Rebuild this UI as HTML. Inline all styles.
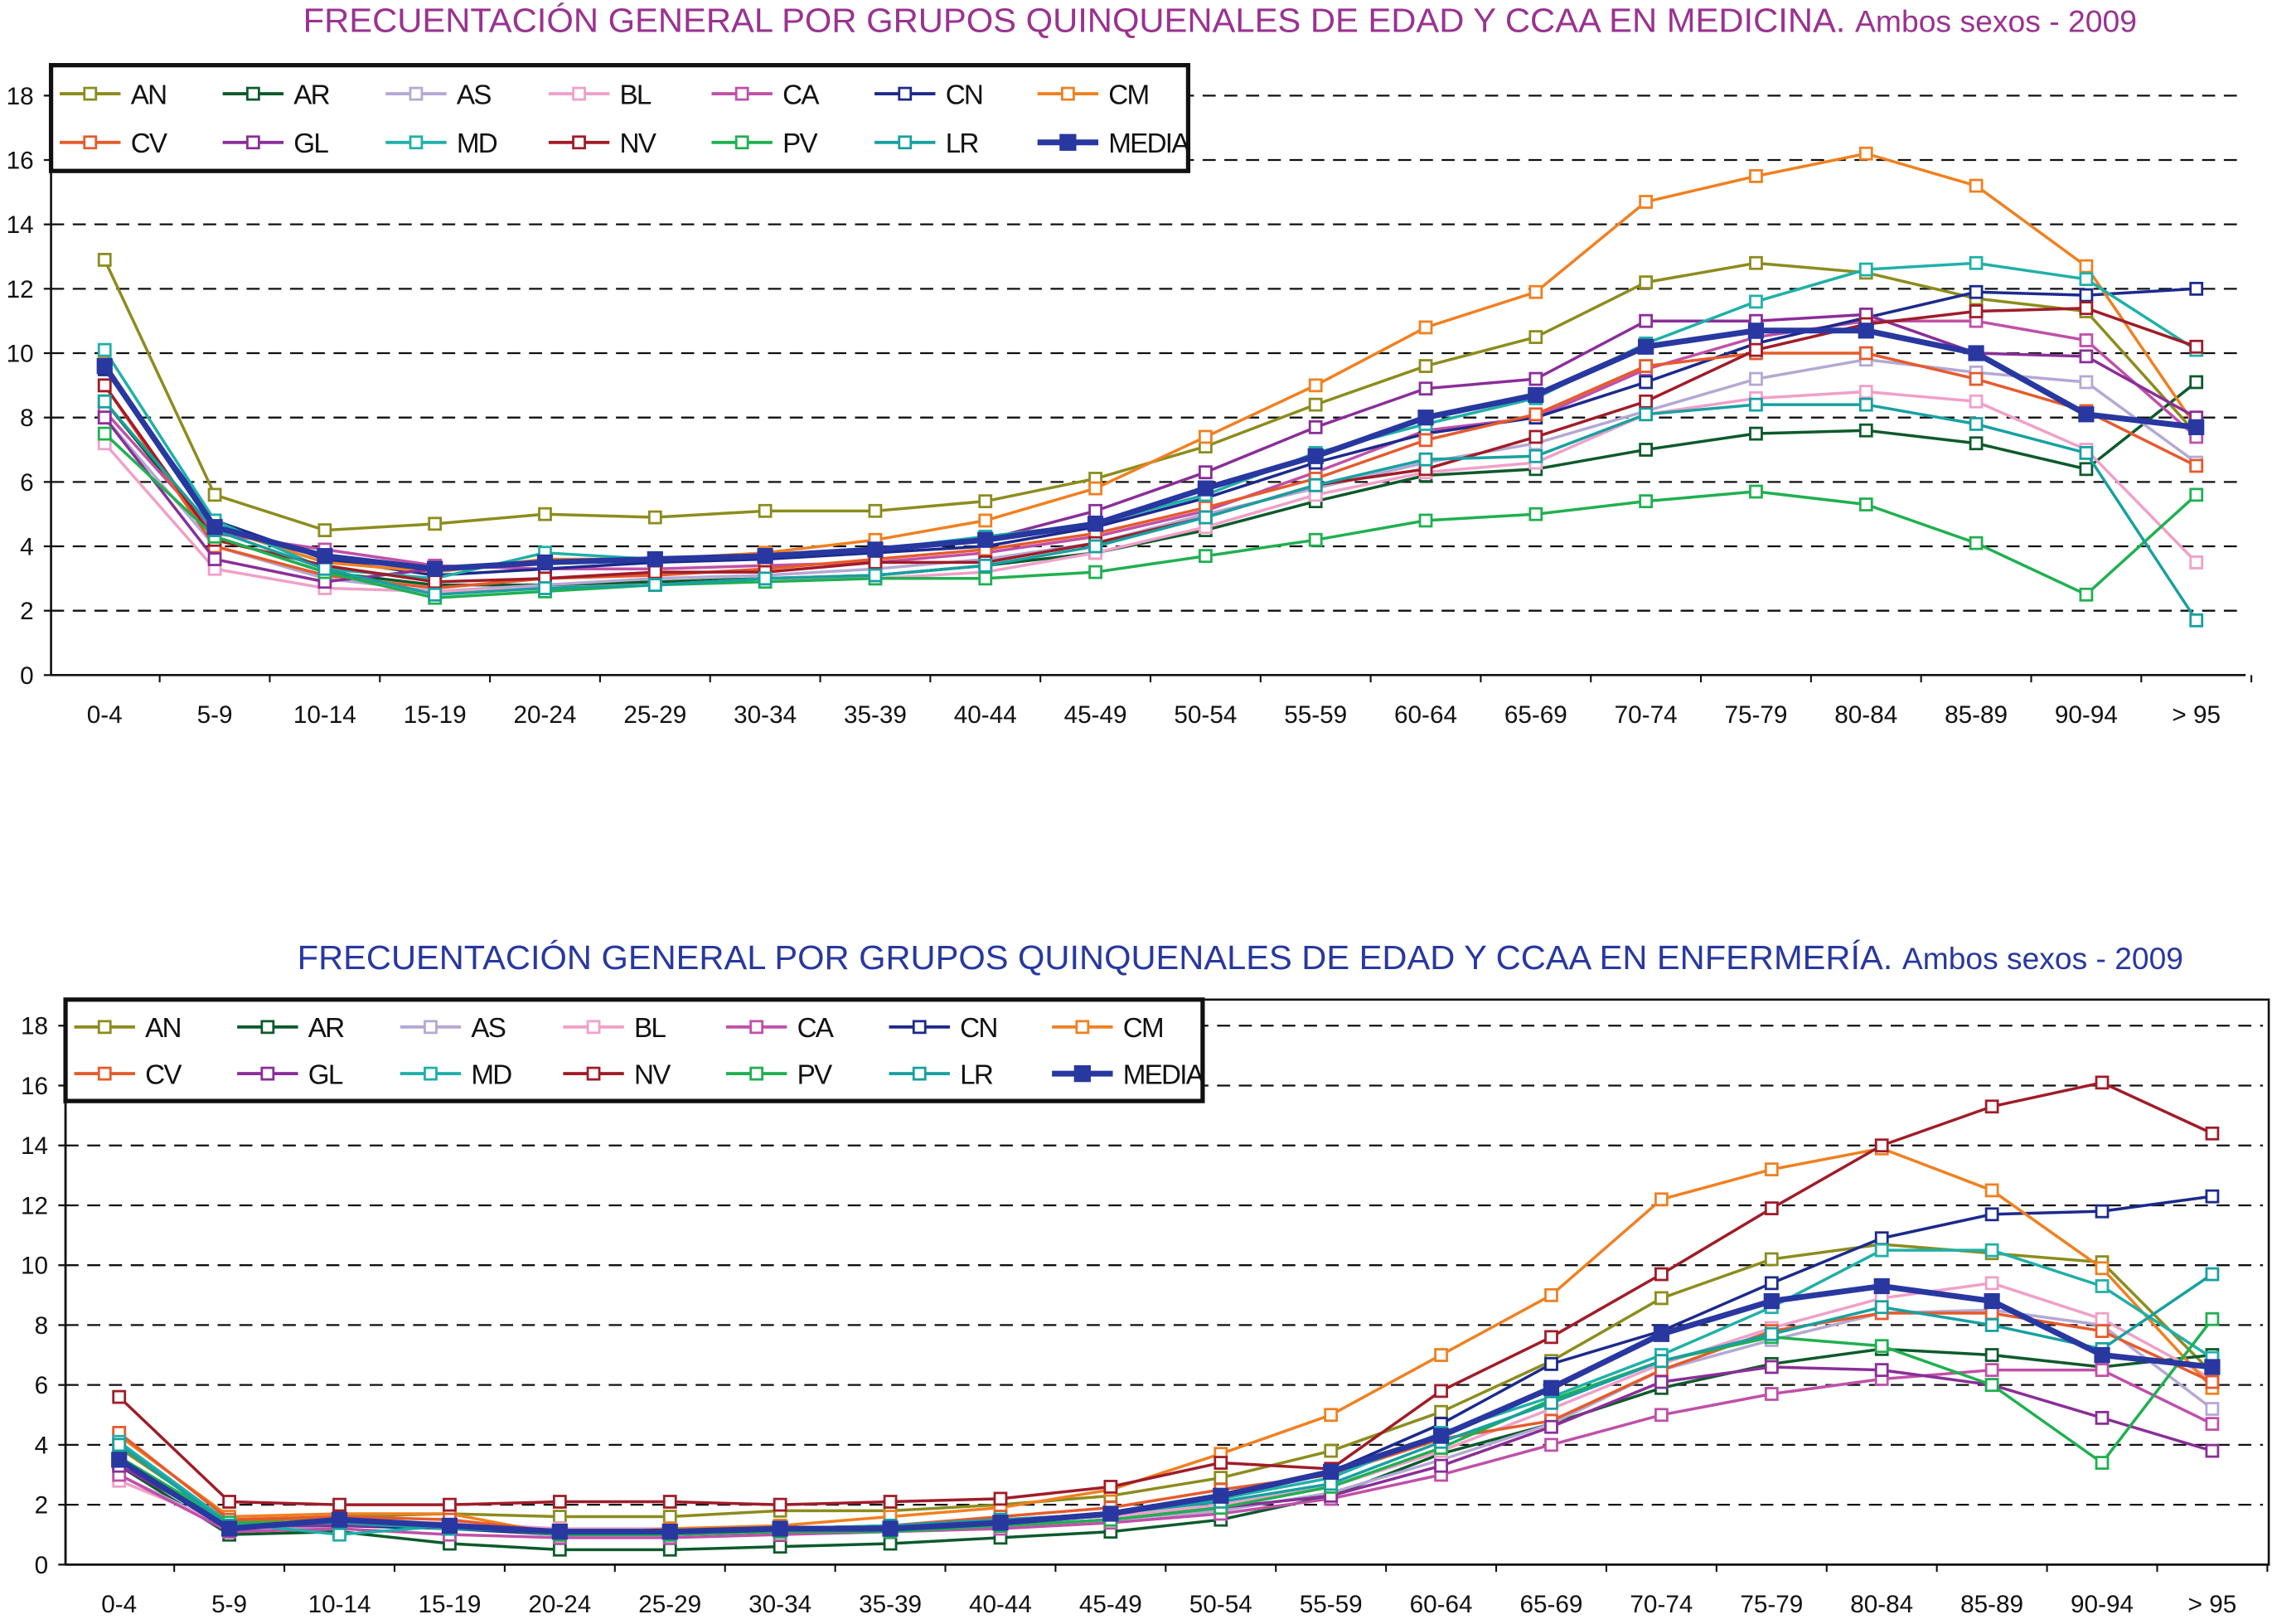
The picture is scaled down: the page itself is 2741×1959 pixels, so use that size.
<!DOCTYPE html>
<html><head><meta charset="utf-8"><style>
html,body{margin:0;padding:0;background:#fff}
svg{display:block}
text{font-family:"Liberation Sans",sans-serif}
</style></head><body>
<svg id="svg" width="2741" height="1959" viewBox="0 0 1568 1121" xmlns="http://www.w3.org/2000/svg">
<text x="842" y="22" text-anchor="middle" font-size="23.5" fill="#9a3290" textLength="1266" lengthAdjust="spacingAndGlyphs">FRECUENTACIÓN GENERAL POR GRUPOS QUINQUENALES DE EDAD Y CCAA EN MEDICINA. <tspan font-size="21">Ambos sexos - 2009</tspan></text>
<text x="856" y="669" text-anchor="middle" font-size="23.5" fill="#2838a0" textLength="1302" lengthAdjust="spacingAndGlyphs">FRECUENTACIÓN GENERAL POR GRUPOS QUINQUENALES DE EDAD Y CCAA EN ENFERMERÍA. <tspan font-size="21">Ambos sexos - 2009</tspan></text>
<g id="g1"></g>
<g id="g2"></g>
</svg>
<script>
const categories=["0-4","5-9","10-14","15-19","20-24","25-29","30-34","35-39","40-44","45-49","50-54","55-59","60-64","65-69","70-74","75-79","80-84","85-89","90-94","> 95"];
const seriesNames=["AN","AR","AS","BL","CA","CN","CM","CV","GL","MD","NV","PV","LR","MEDIA"];
const yTicks=[0,2,4,6,8,10,12,14,16,18];
const colors=["#8c8c1e","#0d5a2b","#b4a8d4","#f0a0c8","#c050a8","#1c2a8c","#f08020","#e65a2c","#8a2e98","#20b0a8","#a01c28","#20b050","#18a0a0","#2838a0"];
const medAN=[12.9,5.6,4.5,4.7,5.0,4.9,5.1,5.1,5.4,6.1,7.1,8.4,9.6,10.5,12.2,12.8,12.5,11.7,11.3,7.5];
const medAR=[8.5,4.3,3.2,2.8,2.8,2.9,3.0,3.1,3.4,3.8,4.5,5.4,6.2,6.4,7.0,7.5,7.6,7.2,6.4,9.1];
const medAS=[8.0,4.0,3.0,2.6,2.8,3.0,3.1,3.3,3.6,4.1,5.0,5.8,6.6,7.2,8.2,9.2,9.8,9.4,9.1,6.6];
const medBL=[7.2,3.3,2.7,2.6,2.7,2.8,3.0,3.0,3.2,3.8,4.6,5.6,6.3,6.6,8.1,8.6,8.8,8.5,7.0,3.5];
const medCA=[8.2,4.4,3.9,3.4,3.3,3.3,3.4,3.5,3.8,4.3,5.1,6.3,7.6,8.0,9.5,10.5,11.0,11.0,10.4,7.4];
const medCN=[9.5,4.8,3.6,3.1,3.3,3.5,3.6,3.8,4.0,4.6,5.5,6.6,7.5,8.0,9.1,10.3,11.1,11.9,11.8,12.0];
const medCM=[9.7,4.6,3.5,3.2,3.6,3.6,3.8,4.2,4.8,5.8,7.4,9.0,10.8,11.9,14.7,15.5,16.2,15.2,12.7,7.7];
const medCV=[9.0,4.0,3.1,2.7,3.0,3.1,3.3,3.6,3.9,4.4,5.2,6.1,7.3,8.1,9.6,10.0,10.0,9.2,8.2,6.5];
const medGL=[8.0,3.6,2.9,3.3,3.5,3.6,3.7,3.9,4.2,5.1,6.3,7.7,8.9,9.2,11.0,11.0,11.2,10.0,9.9,8.0];
const medMD=[10.1,4.8,3.3,3.0,3.8,3.6,3.7,3.9,4.3,4.7,5.6,6.9,7.8,8.6,10.3,11.6,12.6,12.8,12.3,10.1];
const medNV=[9.0,4.2,3.4,2.9,3.0,3.2,3.2,3.5,3.5,4.1,4.9,5.9,6.4,7.4,8.5,10.1,10.9,11.3,11.4,10.2];
const medPV=[7.5,4.3,3.2,2.4,2.6,2.8,2.9,3.0,3.0,3.2,3.7,4.2,4.8,5.0,5.4,5.7,5.3,4.1,2.5,5.6];
const medLR=[8.5,4.5,3.3,2.5,2.7,2.8,3.0,3.1,3.4,4.0,4.9,5.9,6.7,6.8,8.1,8.4,8.4,7.8,6.9,1.7];
const medMEDIA=[9.6,4.6,3.7,3.3,3.5,3.6,3.7,3.9,4.2,4.7,5.8,6.8,8.0,8.7,10.2,10.7,10.7,10.0,8.1,7.7];
const enfAN=[3.9,1.4,1.6,1.7,1.6,1.6,1.8,1.8,2.0,2.3,2.9,3.8,5.1,6.8,8.9,10.2,10.7,10.4,10.1,6.4];
const enfAR=[3.3,1.0,1.1,0.7,0.5,0.5,0.6,0.7,0.9,1.1,1.5,2.3,3.7,4.7,5.9,6.7,7.2,7.0,6.6,7.0];
const enfAS=[3.0,1.2,1.3,1.3,1.0,1.0,1.1,1.1,1.3,1.5,1.8,2.4,3.5,4.7,6.5,7.5,8.4,8.5,8.0,5.2];
const enfBL=[2.8,1.3,1.4,1.4,1.2,1.2,1.2,1.3,1.5,1.6,2.0,2.6,3.8,5.2,6.7,7.9,8.9,9.4,8.2,6.2];
const enfCA=[3.0,1.1,1.2,1.0,0.9,0.9,1.0,1.1,1.2,1.4,1.7,2.2,3.0,4.0,5.0,5.7,6.2,6.5,6.5,4.7];
const enfCN=[3.5,1.3,1.3,1.2,1.0,1.0,1.1,1.2,1.4,1.7,2.2,3.1,4.7,6.7,7.8,9.4,10.9,11.7,11.8,12.3];
const enfCM=[4.3,1.6,1.7,1.7,1.0,1.2,1.3,1.6,1.9,2.5,3.7,5.0,7.0,9.0,12.2,13.2,13.9,12.5,9.9,5.9];
const enfCV=[4.4,1.5,1.6,1.5,1.1,1.1,1.2,1.3,1.6,1.9,2.5,3.0,4.2,4.8,6.5,7.8,8.4,8.4,7.8,6.1];
const enfGL=[3.3,1.3,1.3,1.3,1.1,1.1,1.2,1.2,1.3,1.5,1.9,2.3,3.3,4.6,6.1,6.6,6.5,6.0,4.9,3.8];
const enfMD=[4.1,1.4,1.0,1.3,1.1,1.1,1.2,1.3,1.5,1.7,2.2,2.9,4.4,5.6,7.0,8.6,10.5,10.5,9.3,6.9];
const enfNV=[5.6,2.1,2.0,2.0,2.1,2.1,2.0,2.1,2.2,2.6,3.4,3.2,5.8,7.6,9.7,11.9,14.0,15.3,16.1,14.4];
const enfPV=[3.6,1.4,1.4,1.3,1.0,1.0,1.1,1.1,1.3,1.5,1.9,2.6,3.9,5.5,6.8,7.6,7.3,6.0,3.4,8.2];
const enfLR=[4.0,1.3,1.4,1.2,1.1,1.1,1.2,1.3,1.5,1.7,2.1,2.7,4.1,5.4,6.8,7.7,8.6,8.0,7.2,9.7];
const enfMEDIA=[3.5,1.2,1.5,1.3,1.1,1.1,1.2,1.2,1.4,1.7,2.3,3.1,4.3,5.9,7.7,8.8,9.3,8.8,7.0,6.6];
const medSeries=[medAN,medAR,medAS,medBL,medCA,medCN,medCM,medCV,medGL,medMD,medNV,medPV,medLR,medMEDIA];
const enfSeries=[enfAN,enfAR,enfAS,enfBL,enfCA,enfCN,enfCM,enfCV,enfGL,enfMD,enfNV,enfPV,enfLR,enfMEDIA];

const NS="http://www.w3.org/2000/svg";
function mk(parent,tag,attrs){const e=document.createElementNS(NS,tag);for(const k in attrs)e.setAttribute(k,attrs[k]);parent.appendChild(e);return e;}

function draw(g,series,cfg){
  const yScale=v=>cfg.y0+(cfg.y18-cfg.y0)*v/18;
  const xScale=i=>cfg.x0+(cfg.xN-cfg.x0)*i/(categories.length-1);
  const step=(cfg.xN-cfg.x0)/(categories.length-1);
  if(cfg.box){const b=mk(g,'rect',{x:cfg.axisX,y:cfg.top,width:cfg.right-cfg.axisX,height:cfg.bottom-cfg.top,fill:'none',stroke:'#111','stroke-width':1.5});
    
    }
  yTicks.forEach(t=>{
    const y=yScale(t);
    if(t>0){const l=mk(g,'line',{x1:cfg.axisX,x2:cfg.gridEnd,y1:y,y2:y,stroke:'#111','stroke-width':1.3,'stroke-dasharray':'9,6'});
      
      }
    mk(g,'line',{x1:cfg.axisX-5,x2:cfg.axisX,y1:y,y2:y,stroke:'#111','stroke-width':1.3});
    const tx=mk(g,'text',{x:cfg.axisX-12,y:y+6,'text-anchor':'end','font-size':17,fill:'#111'});
    tx.textContent=t;
    
    
  });
  const ya=mk(g,'line',{x1:cfg.axisX,x2:cfg.axisX,y1:cfg.top,y2:yScale(0),stroke:'#111','stroke-width':1.5});
  
  
  const xa=mk(g,'line',{x1:cfg.axisX,x2:cfg.right,y1:yScale(0),y2:yScale(0),stroke:'#111','stroke-width':1.5});
  
  
  categories.forEach((c,i)=>{
    const x=xScale(i);
    mk(g,'line',{x1:x+step/2,x2:x+step/2,y1:yScale(0),y2:yScale(0)+5,stroke:'#111','stroke-width':1.2});
    const tx=mk(g,'text',{x:x,y:yScale(0)+33,'text-anchor':'middle','font-size':17,fill:'#111'});
    tx.textContent=c;
    
    
  });
  series.forEach((vals,si)=>{
    const isMedia=si===series.length-1;
    const sg=mk(g,'g',{});
    
    
    const pts=vals.map((v,i)=>xScale(i).toFixed(1)+','+yScale(v).toFixed(1)).join(' ');
    mk(sg,'polyline',{points:pts,fill:'none',stroke:colors[si],'stroke-width':isMedia?4:2});
    vals.forEach((v,i)=>{
      const s=isMedia?10:8;
      const r=mk(sg,'rect',{x:xScale(i)-s/2,y:yScale(v)-s/2,width:s,height:s,fill:isMedia?colors[si]:'#fff',stroke:colors[si],'stroke-width':isMedia?1:1.6});
      
      
    });
  });
  const lg=mk(g,'g',{});
  
  
  mk(lg,'rect',{x:cfg.lx,y:cfg.ly,width:cfg.lw,height:cfg.lh,fill:'#fff',stroke:'#111','stroke-width':3});
  seriesNames.forEach((n,i)=>{
    const col=i%7,row=Math.floor(i/7);
    const x=cfg.lx+6+col*cfg.lsp, y=cfg.ly+cfg.lh*(row===0?0.27:0.73);
    const isMedia=i===13;
    const e=mk(lg,'g',{});
    
    
    mk(e,'line',{x1:x,x2:x+42,y1:y,y2:y,stroke:colors[i],'stroke-width':isMedia?4:2.2});
    const s=isMedia?10:8;
    mk(e,'rect',{x:x+21-s/2,y:y-s/2,width:s,height:s,fill:isMedia?colors[i]:'#fff',stroke:colors[i],'stroke-width':1.6});
    const t=mk(e,'text',{x:x+49,y:y+7,'font-size':19,fill:'#111','letter-spacing':'-1'});
    t.textContent=n;
  });
}
draw(document.getElementById('g1'),medSeries,{y0:466,y18:66,x0:72,xN:1516,axisX:35,top:45,right:1550,gridEnd:1550,bottom:466,box:false,lx:35,ly:45,lw:785,lh:73,lsp:112.5});
draw(document.getElementById('g2'),enfSeries,{y0:1080,y18:708,x0:82,xN:1527,axisX:45,top:690,right:1566,gridEnd:1562,bottom:1080,box:true,lx:45,ly:690,lw:785,lh:70,lsp:112.5});
</script>
</body></html>
